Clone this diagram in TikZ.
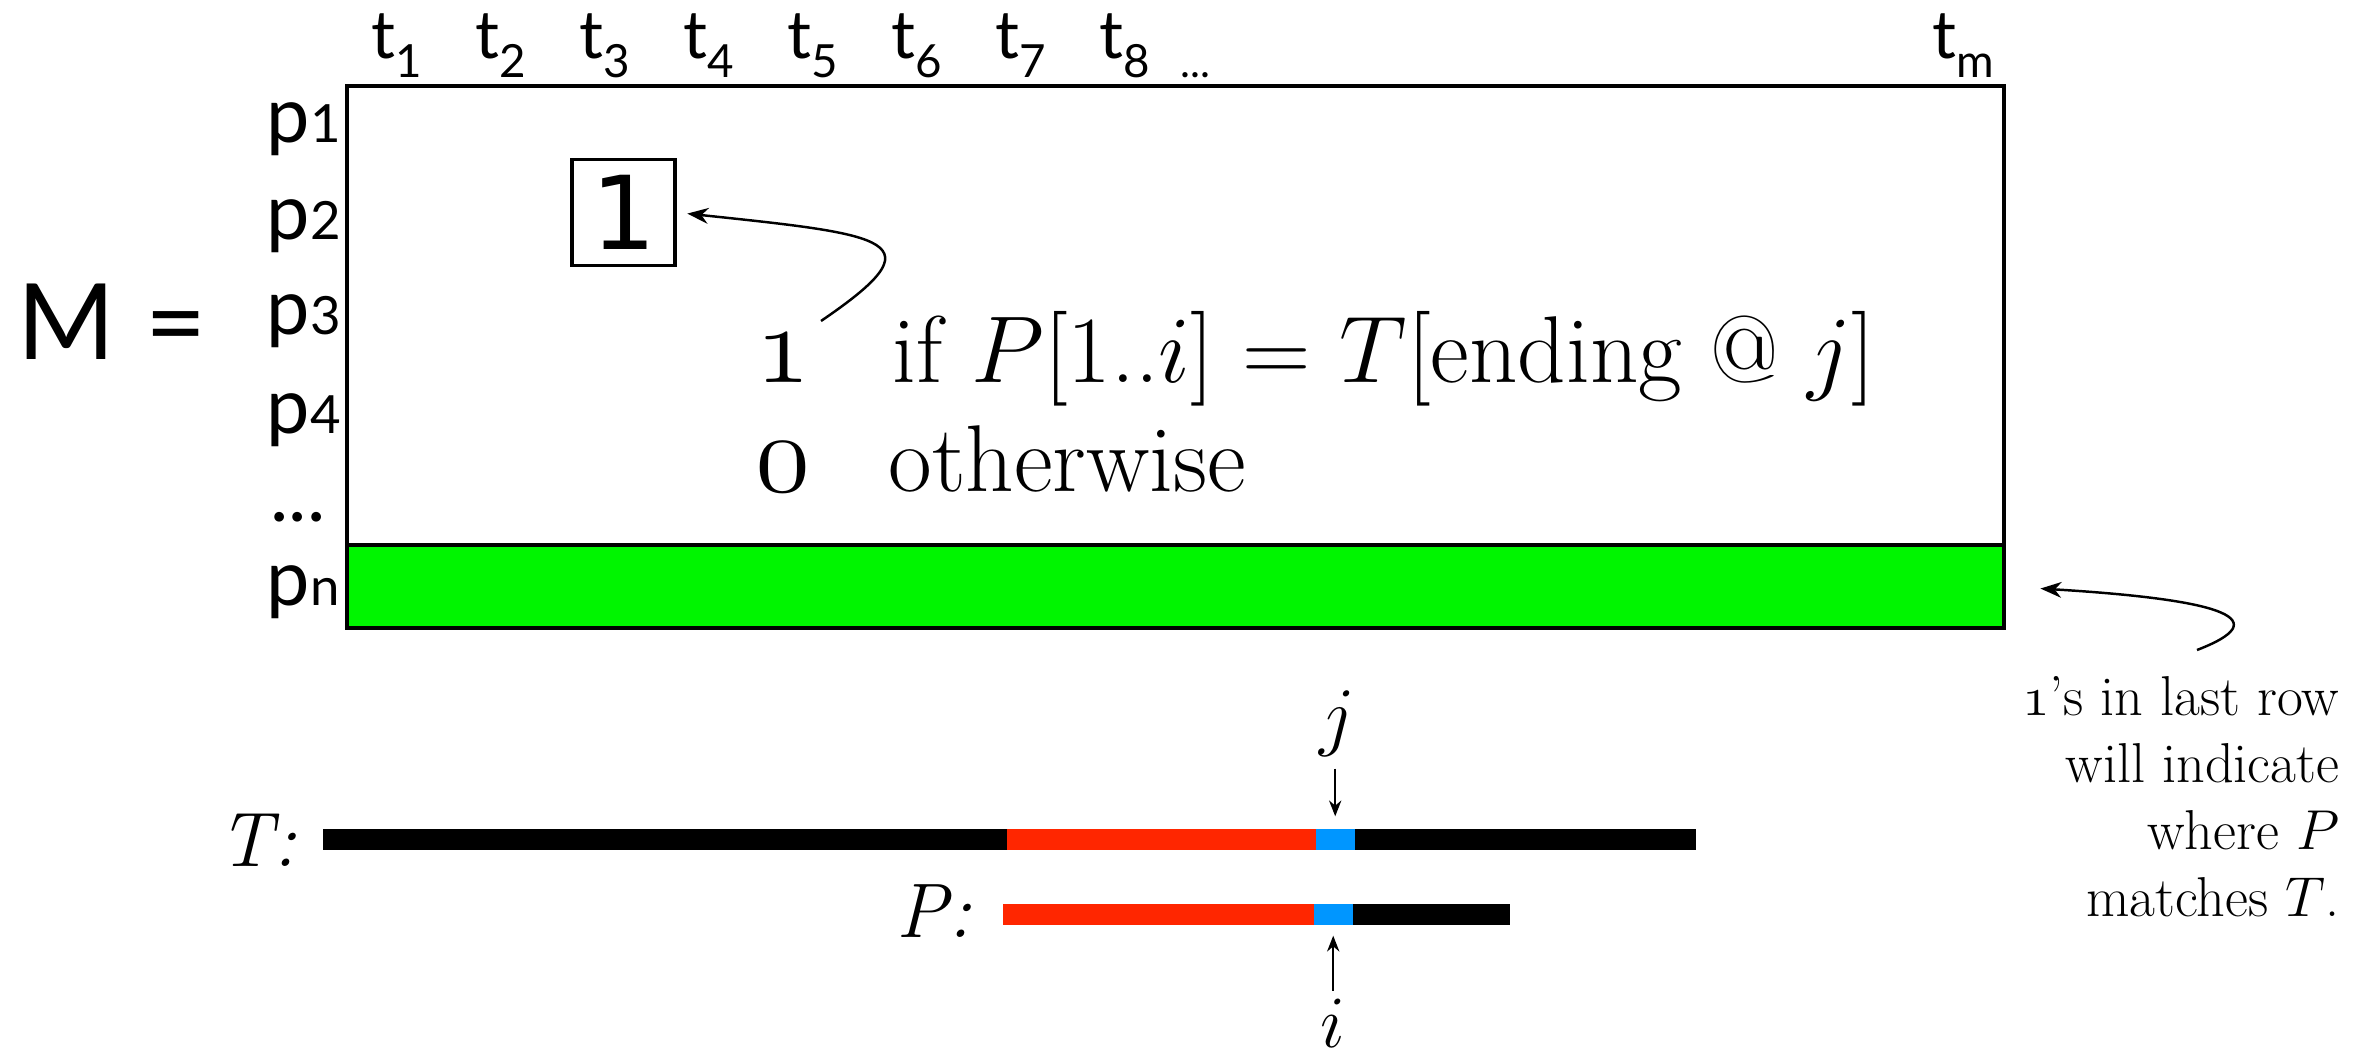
\RequirePackage{fix-cm}
\documentclass[tikz,border=0pt]{standalone}
\usepackage{fontspec}
\usepackage{tikz}
\usetikzlibrary{arrows.meta, positioning}
\newfontfamily\gillish{Lato}
\newfontfamily\digitfont{DejaVu Sans}
\definecolor{rowgreen}{RGB}{0,245,0}
\definecolor{matchred}{RGB}{255,38,0}
\definecolor{matchblue}{RGB}{0,150,255}
\newcommand{\osnum}[1]{\ensuremath{\mathnormal{#1}}}
\newcommand{\lowidx}[1]{\raisebox{-0.19cm}{\fontsize{13}{13}\selectfont #1}}
\newcommand{\rowidx}[1]{{\fontsize{15}{15}\selectfont #1}}

\begin{document}
\begin{tikzpicture}[>={Stealth[length=6pt,width=4.5pt]}, every node/.style={inner sep=0pt},
    tlabel/.style={anchor=base west, font=\gillish\fontsize{19}{19}\selectfont},
    plabel/.style={anchor=base west, font=\gillish\fontsize{22}{22}\selectfont},
    cond/.style={anchor=base west, font=\fontsize{27}{27}\selectfont},
    condnum/.style={anchor=base west, font=\fontsize{32}{32}\selectfont},
    seg/.style={anchor=west, minimum height=0.21cm},
    barlabel/.style={anchor=base east, font=\fontsize{22}{22}\selectfont\itshape},
    pointer/.style={->, line width=0.7pt},
    tick/.style={-{Stealth[length=4.5pt,width=3.5pt]}, line width=0.6pt}]
  \useasboundingbox (0,0) rectangle (23.73,-10.57);

  \node[anchor=base west, font=\gillish\fontsize{30}{30}\selectfont] (mlabel) at (0.17,-3.60) {M\hspace{0.3cm}=};

  % the matrix and its last row
  \node[draw, line width=1.4pt, minimum width=16.57cm, minimum height=5.42cm] (mtx) at (11.755,-3.57) {};
  \node[draw, line width=1.4pt, fill=rowgreen, minimum width=16.57cm, minimum height=0.83cm] (lastrow) at (11.755,-5.865) {};

  \foreach \k in {1,...,8}
    \node[tlabel] (t\k) at ({3.71+1.04*(\k-1)},-0.59) {t\lowidx{\k}};
  \node[anchor=base west, font=\gillish\fontsize{12}{12}\selectfont] (tdots) at (11.80,-0.78) {...};
  \node[tlabel] (tm) at (19.32,-0.59) {t\lowidx{m}};

  \foreach \k/\y in {1/1.43, 2/2.40, 3/3.35, 4/4.33}
    \node[plabel] (p\k) at (2.66,-\y) {p\rowidx{\k}};
  \node[plabel] (pdots) at (2.70,-5.22) {...};
  \node[plabel] (pn) at (2.66,-6.05) {p\rowidx{n}};

  \node[draw, line width=1pt, minimum width=1.03cm, minimum height=1.06cm,
        font=\digitfont\fontsize{29}{29}\selectfont] (one) at (6.235,-2.125) {1};

  \node[condnum] (oneval) at (7.55,-3.83) {\osnum{1}};
  \node[cond] (ifpart) at (8.92,-3.83) {if $P$[1..$i$] = $T$[ending @ $j$]};
  \node[condnum] (zeroval) at (7.55,-4.92) {\osnum{0}};
  \node[cond] (otherwise) at (8.88,-4.92) {otherwise};

  \coordinate (onetail) at (8.21,-3.21);
  \draw[pointer, shorten >=3pt] (onetail) .. controls (9.4,-2.4) and (8.9,-2.35) .. (one.east);

  % T and P
  \node[barlabel] (tname) at (2.97,-8.66) {T:};
  \node[seg, fill=black, minimum width=6.84cm] (tfront) at (3.22,-8.395) {};
  \node[seg, fill=matchred, minimum width=3.09cm] (tred) at (10.06,-8.395) {};
  \node[seg, fill=matchblue, minimum width=0.39cm] (tblue) at (13.15,-8.395) {};
  \node[seg, fill=black, minimum width=3.41cm] (tback) at (13.54,-8.395) {};

  \node[barlabel] (pname) at (9.72,-9.37) {P:};
  \node[seg, fill=matchred, minimum width=3.11cm] (pred) at (10.02,-9.145) {};
  \node[seg, fill=matchblue, minimum width=0.39cm] (pblue) at (13.13,-9.145) {};
  \node[seg, fill=black, minimum width=1.57cm] (pback) at (13.52,-9.145) {};

  \node[anchor=base, font=\fontsize{22}{22}\selectfont] (jlabel) at (13.37,-7.41) {$j$};
  \node[anchor=base, font=\fontsize{21}{21}\selectfont] (ilabel) at (13.33,-10.47) {$i$};
  \draw[tick, shorten <=0.12cm, shorten >=0.12cm] (jlabel.south -| tblue.north) -- (tblue.north);
  \draw[tick, shorten <=0.07cm, shorten >=0.10cm] (ilabel.north -| pblue.south) -- (pblue.south);

  \node[anchor=north east, align=right, font=\fontsize{16}{19}\selectfont] (note) at (23.40,-6.76)
    {\osnum{1}’s in last row\\ will indicate\\ where $P$\\ matches $T$.};
  \coordinate (notetail) at (21.97,-6.50);
  \draw[pointer, shorten >=0.34cm] (notetail) .. controls (22.75,-6.2) and (22.3,-6.0) .. (lastrow.east);
\end{tikzpicture}
\end{document}
